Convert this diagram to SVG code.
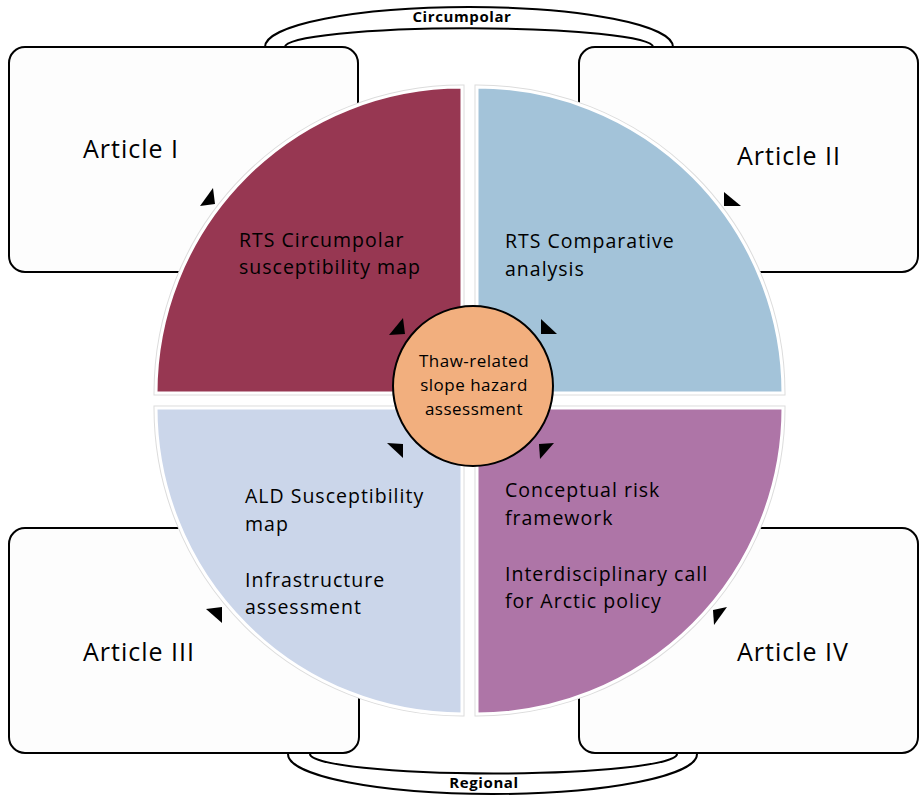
<svg xmlns="http://www.w3.org/2000/svg" width="919" height="796" viewBox="0 0 919 796">
<style>
.box{fill:#FDFDFD;stroke:#000;stroke-width:2}
.art{font-family:"Open Sans","Liberation Sans",sans-serif;font-size:25px;letter-spacing:1px;fill:#000}
.q{font-family:"Open Sans","Liberation Sans",sans-serif;font-size:19.5px;letter-spacing:1px;fill:#000}
.c{font-family:"Open Sans","Liberation Sans",sans-serif;font-size:17px;letter-spacing:0.5px;fill:#000;text-anchor:middle}
.lbl{font-family:"Open Sans","Liberation Sans",sans-serif;font-size:15px;font-weight:bold;letter-spacing:0.6px;fill:#000;text-anchor:middle}
.arc{fill:none;stroke:#000;stroke-width:2}
.edge{fill:none;stroke:#dcdcdc;stroke-width:5}
.fillq{stroke:#fff;stroke-width:3}
.head{fill:#000}
</style>
<rect width="919" height="796" fill="#fff"/>
<g id="connectors-arcs">
<path class="arc" d="M265,47 A204,40 0 0 1 673,47"/>
<path class="arc" d="M285,47 A184,18.7 0 0 1 653,47"/>
<path class="arc" d="M288,754 A204.5,40 0 0 0 697,754"/>
<path class="arc" d="M310,754 A183.5,19.5 0 0 0 677,754"/>
<text class="lbl" x="462" y="22">Circumpolar</text>
<text class="lbl" x="484" y="788">Regional</text>
</g>
<g id="article-1"><rect class="box" x="9" y="47" width="349" height="225" rx="16"/><text class="art" x="83" y="158">Article I</text></g>
<g id="article-2"><rect class="box" x="579" y="47" width="339" height="225" rx="16"/><text class="art" x="737" y="165">Article II</text></g>
<g id="article-3"><rect class="box" x="9" y="528" width="350" height="225" rx="16"/><text class="art" x="83" y="661">Article III</text></g>
<g id="article-4"><rect class="box" x="579" y="528" width="339" height="225" rx="16"/><text class="art" x="737" y="661">Article IV</text></g>
<g id="quadrant-tl">
<path class="edge" d="M462,393 L156,393 A306,306 0 0 1 462,87 Z"/>
<path class="fillq" fill="#973752" d="M462,393 L156,393 A306,306 0 0 1 462,87 Z"/>
<text class="q" x="239" y="247">RTS Circumpolar</text>
<text class="q" x="239" y="274">susceptibility map</text>
</g>
<g id="quadrant-tr">
<path class="edge" d="M477,393 L477,87 A306,306 0 0 1 783,393 Z"/>
<path class="fillq" fill="#A3C3D9" d="M477,393 L477,87 A306,306 0 0 1 783,393 Z"/>
<text class="q" x="505" y="248">RTS Comparative</text>
<text class="q" x="505" y="276">analysis</text>
</g>
<g id="quadrant-bl">
<path class="edge" d="M462,408 L462,714 A306,306 0 0 1 156,408 Z"/>
<path class="fillq" fill="#CBD6EA" d="M462,408 L462,714 A306,306 0 0 1 156,408 Z"/>
<text class="q" x="245" y="503">ALD Susceptibility</text>
<text class="q" x="245" y="531">map</text>
<text class="q" x="245" y="587">Infrastructure</text>
<text class="q" x="245" y="614">assessment</text>
</g>
<g id="quadrant-br">
<path class="edge" d="M477,408 L783,408 A306,306 0 0 1 477,714 Z"/>
<path class="fillq" fill="#AE75A7" d="M477,408 L783,408 A306,306 0 0 1 477,714 Z"/>
<text class="q" x="505" y="497">Conceptual risk</text>
<text class="q" x="505" y="525">framework</text>
<text class="q" x="505" y="581">Interdisciplinary call</text>
<text class="q" x="505" y="608">for Arctic policy</text>
</g>
<g id="center">
<circle cx="473" cy="386" r="80" fill="#F2AF7E" stroke="#000" stroke-width="2"/>
<text class="c" x="474" y="367">Thaw-related</text>
<text class="c" x="474" y="391">slope hazard</text>
<text class="c" x="474" y="415">assessment</text>
</g>
<g id="connectors">
<polygon class="head" points="213,188 200,206 215,204"/>
<polygon class="head" points="403,318 389,335 405,334"/>
<polygon class="head" points="541,319 541,334 557,334"/>
<polygon class="head" points="724,192 724,206 741,206"/>
<polygon class="head" points="387,443 403,444 403,458"/>
<polygon class="head" points="539,444 554,443 540,459"/>
<polygon class="head" points="206,609 222,607 222,623"/>
<polygon class="head" points="713,610 727,607 714,625"/>
</g>
</svg>
